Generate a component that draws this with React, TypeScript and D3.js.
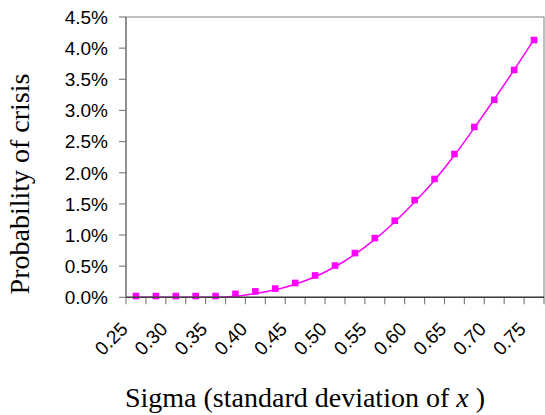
import React from "react";
import * as d3 from "d3";

const categories = [
  "0.25", "0.275", "0.30", "0.325", "0.35", "0.375", "0.40", "0.425", "0.45", "0.475", "0.50",
  "0.525", "0.55", "0.575", "0.60", "0.625", "0.65", "0.675", "0.70", "0.725", "0.75",
];
const shownLabels = ["0.25", "0.30", "0.35", "0.40", "0.45", "0.50", "0.55", "0.60", "0.65", "0.70", "0.75"];
const simulated = [
  0.0002, 0.0002, 0.0002, 0.0002, 0.0002, 0.00055, 0.00095, 0.0014, 0.0023, 0.0035, 0.0051,
  0.0071, 0.0095, 0.0123, 0.0156, 0.019, 0.023, 0.02735, 0.0317, 0.0365, 0.0413,
];
const fitted = [
  0, 0, 0, 0, 0, 0.00015, 0.0006, 0.0012, 0.0021, 0.0033, 0.0049,
  0.0069, 0.0093, 0.0121, 0.0153, 0.0188, 0.0228, 0.0272, 0.0318, 0.0365, 0.0414,
];
const yTicks = [0, 0.005, 0.01, 0.015, 0.02, 0.025, 0.03, 0.035, 0.04, 0.045];

const W = 545;
const H = 415;
const left = 126;
const right = 544;
const top = 17;
const bottom = 297.3;
const MAG = "#FF00FF";

export default function App() {
  const x = d3.scaleBand<string>().domain(categories).range([left, right]).padding(0);
  const y = d3.scaleLinear().domain([0, 0.045]).range([bottom, top]);
  const cx = (c: string) => (x(c) as number) + x.bandwidth() / 2;
  const line = d3
    .line<number>()
    .x((_, i) => cx(categories[i]))
    .y((d) => y(d))
    .curve(d3.curveMonotoneX);
  const fmt = d3.format(".1%");
  const boundaries = categories.map((c) => x(c) as number).concat([right]);

  return (
    <svg
      width={W}
      height={H}
      style={{ position: "absolute", left: 0, top: 0, background: "#fff" }}
      fontFamily="Liberation Sans, Arial, sans-serif"
    >
      <rect x={left} y={top} width={right - left} height={bottom - top} fill="#fff" stroke="#808080" strokeWidth={1} />
      {/* y axis */}
      <line x1={left} x2={left} y1={top} y2={bottom} stroke="#808080" strokeWidth={1.5} />
      {yTicks.map((t) => (
        <g key={t}>
          <line x1={left - 7} x2={left} y1={y(t)} y2={y(t)} stroke="#808080" strokeWidth={1.2} />
          <text x={108} y={y(t)} dy="0.36em" textAnchor="end" fontSize={19} fill="#000">
            {fmt(t)}
          </text>
        </g>
      ))}
      {/* x axis */}
      {boundaries.map((b, i) => (
        <line key={i} x1={b} x2={b} y1={bottom} y2={bottom + 7} stroke="#808080" strokeWidth={1.2} />
      ))}
      {shownLabels.map((c) => (
        <text
          key={c}
          transform={`translate(${cx(c) - 7},${bottom + 33}) rotate(-45)`}
          textAnchor="end"
          fontSize={19}
          fill="#000"
        >
          {c}
        </text>
      ))}
      {/* series */}
      <path d={line(fitted) || ""} fill="none" stroke={MAG} strokeWidth={1.5} />
      {simulated.map((v, i) => (
        <rect key={i} x={cx(categories[i]) - 3.3} y={y(v) - 3.3} width={6.6} height={6.6} fill={MAG} />
      ))}
      <line x1={left} x2={right} y1={bottom} y2={bottom} stroke="#404040" strokeWidth={1.5} />
      {/* titles */}
      <text
        transform={`translate(29,184) rotate(-90)`}
        textAnchor="middle"
        fontFamily="Liberation Serif, Times New Roman, serif"
        fontSize={28}
        fill="#000"
      >
        Probability of crisis
      </text>
      <text x={305} y={407} textAnchor="middle" fontFamily="Liberation Serif, Times New Roman, serif" fontSize={28} fill="#000">
        Sigma (standard deviation of <tspan fontStyle="italic">x</tspan> )
      </text>
    </svg>
  );
}
